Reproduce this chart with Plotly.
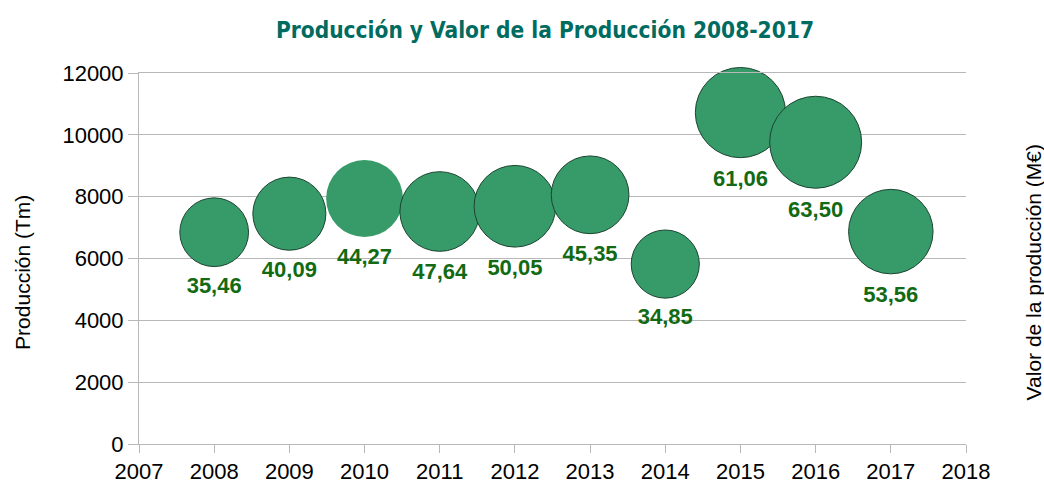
import plotly.graph_objects as go

years = [2008, 2009, 2010, 2011, 2012, 2013, 2014, 2015, 2016, 2017]
produccion = [6850, 7450, 7940, 7520, 7690, 8060, 5820, 10720, 9760, 6870]
valor = [35.46, 40.09, 44.27, 47.64, 50.05, 45.35, 34.85, 61.06, 63.50, 53.56]
outline_w = [1, 1, 0, 1, 1, 1, 1, 1, 1, 1]

x_ticks = list(range(2007, 2019))
y_ticks = [0, 2000, 4000, 6000, 8000, 10000, 12000]

labels = [f"{v:.2f}".replace(".", ",") for v in valor]
max_diam = 92
sizeref = 2.0 * max(valor) / (max_diam ** 2)

fig = go.Figure()
fig.add_trace(go.Scatter(
    x=years, y=produccion,
    mode="markers+text",
    marker=dict(size=valor, sizemode="area", sizeref=sizeref,
                color="#379a69", opacity=1,
                line=dict(color="#1b4530", width=outline_w)),
    text=labels,
    textposition="bottom center",
    textfont=dict(family="Liberation Sans, Arial, sans-serif", size=22,
                  color="#126a12", weight="bold"),
    cliponaxis=False,
    hoverinfo="skip",
    showlegend=False,
))

axis_font = dict(family="Liberation Sans, Arial, sans-serif", size=22, color="#000000")
title_font = dict(family="Liberation Sans, Arial, sans-serif", size=21, color="#000000")
grid_c = "#b8b8b8"

fig.update_layout(
    width=1044, height=484,
    margin=dict(l=139, r=78, t=73, b=40, autoexpand=False),
    paper_bgcolor="white", plot_bgcolor="white",
    title=dict(text="Producción y Valor de la Producción 2008-2017",
               x=0.522, xref="container", xanchor="center",
               y=1 - 30 / 484, yref="container", yanchor="middle",
               font=dict(family="Liberation Sans Narrow, DejaVu Sans Condensed, sans-serif",
                         size=22.5, color="#006b5f", weight="bold")),
    xaxis=dict(range=[2007, 2018], tickvals=x_ticks, ticktext=[str(t) for t in x_ticks],
               showgrid=False, zeroline=False,
               showline=True, linecolor=grid_c, linewidth=1, mirror=True,
               ticks="outside", ticklen=8, tickcolor=grid_c,
               tickfont=axis_font, automargin=False),
    yaxis=dict(range=[0, 12000], tickvals=y_ticks, ticktext=[str(t) for t in y_ticks],
               showgrid=True, gridcolor=grid_c, gridwidth=1, zeroline=False,
               showline=True, linecolor=grid_c, linewidth=1,
               ticks="outside", ticklen=10, tickcolor=grid_c,
               tickfont=axis_font, automargin=False),
    annotations=[
        dict(text="Producción (Tm)", textangle=-90, font=title_font,
             xref="paper", yref="paper", x=0, y=0.4625,
             xanchor="center", yanchor="middle", xshift=-116.5, showarrow=False),
        dict(text="Valor de la producción (M€)", textangle=-90, font=title_font,
             xref="paper", yref="paper", x=1, y=0.4625,
             xanchor="center", yanchor="middle", xshift=67, showarrow=False),
    ],
)

fig.write_html("out.html", config={"displayModeBar": False},
               post_script="document.body.style.margin='0';document.body.style.overflow='hidden';")
